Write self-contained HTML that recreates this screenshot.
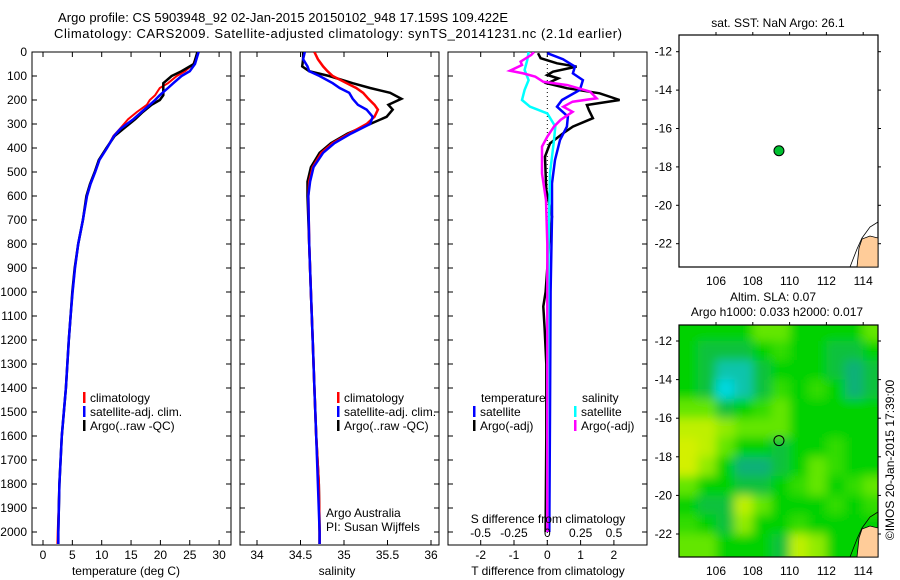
<!DOCTYPE html>
<html><head><meta charset="utf-8">
<style>
html,body{margin:0;padding:0;background:#fff;}
svg{display:block;font-family:"Liberation Sans",sans-serif;}
text{font-size:12px;fill:#000;}
</style></head>
<body>
<svg id="fig" width="900" height="580" viewBox="0 0 900 580" xmlns="http://www.w3.org/2000/svg">
<defs>
<clipPath id="clipP1"><rect x="32" y="52" width="199" height="493"/></clipPath>
<clipPath id="clipP2"><rect x="240" y="52" width="199" height="493"/></clipPath>
<clipPath id="clipP3"><rect x="448" y="52" width="199" height="493"/></clipPath>
<clipPath id="clipM1"><rect x="679" y="35" width="199" height="232"/></clipPath>
<clipPath id="clipM2"><rect x="679" y="325" width="199" height="232"/></clipPath>
<filter id="blur" x="-10%" y="-10%" width="120%" height="120%"><feGaussianBlur stdDeviation="5"/></filter>
</defs>
<text x="58" y="22" textLength="450" style="font-size:13px">Argo profile: CS 5903948_92 02-Jan-2015 20150102_948 17.159S 109.422E</text>
<text x="54" y="38" textLength="568" style="font-size:13px">Climatology: CARS2009. Satellite-adjusted climatology: synTS_20141231.nc (2.1d earlier)</text>
</svg>
<script>
// ---------- data ----------
const depthT = [0,50,80,100,130,150,180,200,220,250,280,320,350,400,450,500,550,600,700,800,900,1000,1100,1200,1400,1600,1800,2000,2050];
const tempClim = [26.4,25.6,24.2,22.8,21.3,19.9,19.1,18.2,17.7,16.0,14.5,13.1,12.0,10.9,9.6,8.9,8.1,7.5,6.8,6.0,5.45,5.05,4.7,4.4,3.9,3.2,2.8,2.5,2.45];
const tempSat = [26.5,25.9,25.0,23.6,22.2,21.3,19.9,19.1,18.2,16.8,15.4,13.2,12.1,10.9,9.6,8.9,8.1,7.5,6.8,6.0,5.45,5.05,4.7,4.4,3.9,3.2,2.8,2.6,2.6];
const tempArgo = [26.3,25.7,23.6,21.9,20.5,20.5,20.5,19.9,18.5,17.0,15.7,13.7,12.2,10.8,9.5,8.8,8.0,7.4,6.8,6.0,5.4,5.0,4.7,4.4,3.9,3.2,2.8,2.6,2.6];

const depthS = [0,30,60,80,100,130,150,170,195,220,240,270,300,340,380,420,480,540,600,800,1000,1200,1400,1600,1800,2000,2050];
const salClim = [34.66,34.70,34.76,34.81,34.87,35.03,35.14,35.22,35.28,35.35,35.39,35.35,35.26,35.06,34.87,34.74,34.64,34.60,34.59,34.60,34.62,34.64,34.66,34.68,34.71,34.72,34.72];
const salSat = [34.55,34.53,34.58,34.60,34.72,34.87,34.95,35.06,35.10,35.16,35.26,35.33,35.30,35.08,34.89,34.76,34.65,34.61,34.59,34.60,34.62,34.64,34.66,34.68,34.70,34.72,34.72];
const salArgo = [34.53,34.53,34.52,34.60,34.83,35.10,35.30,35.53,35.66,35.51,35.56,35.49,35.30,35.04,34.85,34.72,34.62,34.58,34.58,34.60,34.62,34.64,34.66,34.68,34.71,34.72,34.72];

const depthDTsat = [5,30,61,89,117,158,200,228,269,311,367,450,547,686,1000,1500,2000];
const dTsat = [0,0.47,0.83,0.77,1.07,0.98,0.44,0.29,0.62,0.59,0.38,0.23,0.14,0.14,0.1,0.08,0.06];
const depthDTargo = [5,26,47,61,82,96,110,131,151,172,200,221,242,276,311,339,381,436,506,575,686,800,1000,1060,1150,1300,1600,2000];
const dTargo = [-0.28,-0.2,0.29,0.88,0.17,0,0.33,0,0.59,1.57,2.17,1.19,1.25,1.37,0.77,0.47,0.08,-0.07,-0.05,-0.03,0.14,0.05,-0.05,-0.12,-0.08,-0.03,-0.03,-0.05];
const depthDSsat = [0,33,75,117,158,200,228,256,311,367,506,800,2000];
const dSsat = [-0.14,-0.15,-0.17,-0.14,-0.17,-0.19,-0.13,0,0.06,0.05,0.02,0.01,0.0];
const depthDSargo = [0,12,40,54,78,89,103,124,138,165,193,207,228,249,283,311,353,394,506,617,800,1200,2000];
const dSargo = [-0.1,-0.12,-0.2,-0.19,-0.28,-0.18,-0.09,-0.03,0.15,0.32,0.37,0.19,0.12,0.19,0.1,0.05,0,-0.04,-0.04,-0.01,0,0,0];

const depthTicks = [0,100,200,300,400,500,600,700,800,900,1000,1100,1200,1300,1400,1500,1600,1700,1800,1900,2000];
const tempTicks = [0,5,10,15,20,25,30];
const salTicks = [34,34.5,35,35.5,36];
const salTickLabels = ["34","34.5","35","35.5","36"];
const dTTicks = [-2,-1,0,1,2];
const dSTicks = [-0.5,-0.25,0,0.25,0.5];
const dSTickLabels = ["-0.5","-0.25","0","0.25","0.5"];

const argoLon = [109.422];
const argoLat = [-17.159];
const lonTicks = [106,108,110,112,114];
const latTicks = [-12,-14,-16,-18,-20,-22];
const slaLons = [104,105,106,107,108,109,110,111,112,113,114];
const slaLats = [-11,-12,-13,-14,-15,-16,-17,-18,-19,-20,-21,-22];
const slaRow0 = [2,2,2,2,3,3,2,2,2,2,3];
const slaRow1 = [2,1.5,1.5,1.5,2,2.5,2,2,1.5,1.5,2];
const slaRow2 = [2,1.5,0.5,0.5,1.5,2,2,2,1.5,1,1.5];
const slaRow3 = [2,1.5,0,0.5,1.5,2.5,2,2.5,2,1,1.5];
const slaRow4 = [3,3,1.5,2,2.5,3,2,2,2,2,2];
const slaRow5 = [4,4,3.5,3,3,3,2,2,2,2,2];
const slaRow6 = [4.5,4,3,2,2,1.5,2,2,2.5,2,2];
const slaRow7 = [4.5,3.5,2,1,1,1.5,2,3,2.5,2,2];
const slaRow8 = [3,2,2,1.5,1.5,2,2.5,3,2,2.5,3];
const slaRow9 = [2,1.5,1.5,4,3,2,2,2,2.5,2,2.5];
const slaRow10 = [2.5,2,1.5,3.5,2,2,2.5,2,2,2,2];
const slaRow11 = [3,3,2,2,2,1.5,4,3.5,2,2,2];
const slaGrid = [slaRow0,slaRow1,slaRow2,slaRow3,slaRow4,slaRow5,slaRow6,slaRow7,slaRow8,slaRow9,slaRow10,slaRow11];

// ---------- scales ----------
const dy = d => 52 + 0.24*d;
const tx = t => 43 + 5.87*t;
const sx = s => 257 + 87*(s-34);
const tdx = v => 547.3 + 33.3*v;
const sdx = v => 547.3 + 133.3*v;
const lonX = l => 716 + 18.4*(l-106);
const latY1 = la => 51.7 + 19.2*(-12-la);
const latY2 = la => 341 + 19.3*(-12-la);

const NS = "http://www.w3.org/2000/svg";
const svg = document.getElementById('fig');
function mk(tag, attrs, parent){
  const e = document.createElementNS(NS, tag);
  for (const k in attrs) e.setAttribute(k, attrs[k]);
  (parent||svg).appendChild(e);
  return e;
}
function txt(x,y,s,anchor,parent){
  const e = mk('text',{x:x,y:y,'text-anchor':anchor||'start'},parent);
  e.textContent = s;
  return e;
}
function poly(xs, ds, xf, color, w, clip){
  const pts = xs.map((v,i)=> xf(v).toFixed(1)+','+dy(ds[i]).toFixed(1)).join(' ');
  return mk('polyline',{points:pts,fill:'none',stroke:color,'stroke-width':w,'stroke-linejoin':'miter','clip-path':'url(#'+clip+')'});
}

// ---------- profile panels ----------
const panels = [{x:32,clip:'clipP1'},{x:240,clip:'clipP2'},{x:448,clip:'clipP3'}];
panels.forEach((p,idx)=>{
  const r = mk('rect',{x:p.x,y:52,width:199,height:493,fill:'none',stroke:'#000','stroke-width':1});
  
  
  depthTicks.forEach(d=>{
    const t1 = mk('line',{x1:p.x,x2:p.x+5,y1:dy(d),y2:dy(d),stroke:'#000'});
    
    
    const t2 = mk('line',{x1:p.x+199-5,x2:p.x+199,y1:dy(d),y2:dy(d),stroke:'#000'});
    
    
  });
});
depthTicks.forEach(d=>{
  const t = txt(27, dy(d)+4, String(d), 'end');
  
  
});
function xTicks(vals, labels, f, ylab){
  vals.forEach((v,i)=>{
    const a = mk('line',{x1:f(v),x2:f(v),y1:545,y2:540,stroke:'#000'});
    
    
    const b = mk('line',{x1:f(v),x2:f(v),y1:52,y2:57,stroke:'#000'});
    
    
    const t = txt(f(v), ylab, labels[i], 'middle');
    
    
  });
}
xTicks(tempTicks, tempTicks.map(String), tx, 559);
xTicks(salTicks, salTickLabels, sx, 559);
xTicks(dTTicks, dTTicks.map(String), tdx, 559);

const zl = mk('line',{x1:tdx(0),x2:tdx(0),y1:52,y2:545,stroke:'#000','stroke-dasharray':'1,3'});



let e;
e = poly(tempClim, depthT, tx, '#ff0000', 2, 'clipP1');


e = poly(tempArgo, depthT, tx, '#000000', 2.5, 'clipP1');


e = poly(tempSat, depthT, tx, '#0000ff', 2.5, 'clipP1');


e = poly(salArgo, depthS, sx, '#000000', 2.5, 'clipP2');


e = poly(salClim, depthS, sx, '#ff0000', 2.5, 'clipP2');


e = poly(salSat, depthS, sx, '#0000ff', 2.5, 'clipP2');


e = poly(dTargo, depthDTargo, tdx, '#000000', 2.5, 'clipP3');


e = poly(dTsat, depthDTsat, tdx, '#0000ff', 2.5, 'clipP3');


e = poly(dSsat, depthDSsat, sdx, '#00ffff', 2.5, 'clipP3');


e = poly(dSargo, depthDSargo, sdx, '#ff00ff', 2.5, 'clipP3');



dSTicks.forEach((v,i)=>{
  const t = txt(sdx(v), 537, dSTickLabels[i], 'middle');
  
  
});
e = txt(548, 523, 'S difference from climatology', 'middle');



e = txt(126, 575, 'temperature (deg C)', 'middle');


e = txt(337, 575, 'salinity', 'middle');


e = txt(548, 575, 'T difference from climatology', 'middle');



function legend(x, y, color, label, nm){
  const b = mk('rect',{x:x, y:y-10, width:2.5, height:11, fill:color});
  
  
  const t = txt(x+7, y, label);
  
  
}
legend(83, 402, '#ff0000', 'climatology', 'legend-entry-climatology');
legend(83, 416, '#0000ff', 'satellite-adj. clim.', 'legend-entry-satellite');
legend(83, 430, '#000000', 'Argo(..raw -QC)', 'legend-entry-argo');
legend(337, 402, '#ff0000', 'climatology', 'legend-entry-climatology-2');
legend(337, 416, '#0000ff', 'satellite-adj. clim.', 'legend-entry-satellite-2');
legend(337, 430, '#000000', 'Argo(..raw -QC)', 'legend-entry-argo-2');
e = txt(481, 402, 'temperature');


e = txt(582, 402, 'salinity');


legend(473, 416, '#0000ff', 'satellite', 'legend-entry-t-satellite');
legend(473, 430, '#000000', 'Argo(-adj)', 'legend-entry-t-argo');
legend(574, 416, '#00ffff', 'satellite', 'legend-entry-s-satellite');
legend(574, 430, '#ff00ff', 'Argo(-adj)', 'legend-entry-s-argo');
e = txt(326, 517, 'Argo Australia');


e = txt(326, 531, 'PI: Susan Wijffels');



// ---------- maps ----------
function slaColor(v){
  const stops = [[0,[0,216,224]],[1,[16,176,120]],[2,[0,210,0]],[3,[100,230,0]],[4,[190,240,0]],[5,[232,240,0]]];
  for (let i=0;i<stops.length-1;i++){
    if (v<=stops[i+1][0]){
      const f=(v-stops[i][0])/(stops[i+1][0]-stops[i][0]);
      const c=stops[i][1].map((a,k)=>Math.round(a+(stops[i+1][1][k]-a)*f));
      return 'rgb('+c.join(',')+')';
    }
  }
  return 'rgb(232,240,0)';
}
const hg = mk('g',{'clip-path':'url(#clipM2)'});


mk('rect',{x:679,y:325,width:199,height:232,fill:slaColor(2)},hg);
const hb = mk('g',{filter:'url(#blur)'},hg);
slaGrid.forEach((row,r)=>{
  row.forEach((v,c)=>{
    const x0 = lonX(slaLons[c]), x1 = lonX(slaLons[c]+1);
    const y0 = latY2(slaLats[r]), y1 = latY2(slaLats[r]-1);
    const ex = (c===0?-20:0), ex2 = (c===row.length-1?20:0);
    const ey = (r===0?-20:0), ey2 = (r===slaGrid.length-1?20:0);
    const cell = mk('rect',{x:x0+ex,y:y0+ey,width:(x1-x0)-ex+ex2+0.5,height:(y1-y0)-ey+ey2+0.5,fill:slaColor(v)},hb);
    
    
  });
});

function mapFrame(top, latY, nm, clip){
  const r = mk('rect',{x:679,y:top,width:199,height:232,fill:'none',stroke:'#000','stroke-width':1.2});
  
  
  const off = top-35;
  const land = mk('polygon',{points:[[857,267],[859,248],[862,239],[870,236],[878,238],[878,267]].map(p=>p[0]+','+(p[1]+off)).join(' '),fill:'#ffcc99',stroke:'#000','stroke-width':0.8,'clip-path':'url(#'+clip+')'});
  
  
  const coast = mk('polyline',{points:[[850,267],[857,249],[862,238],[870,227],[878,222]].map(p=>p[0]+','+(p[1]+off)).join(' '),fill:'none',stroke:'#000','stroke-width':0.8});
  
  
  lonTicks.forEach(l=>{
    const a = mk('line',{x1:lonX(l),x2:lonX(l),y1:top,y2:top-3,stroke:'#000'});
    
    
    const t = txt(lonX(l), top+232+18, String(l), 'middle');
    
    
  });
  latTicks.forEach(la=>{
    const a = mk('line',{x1:676,x2:679,y1:latY(la),y2:latY(la),stroke:'#000'});
    
    
    const b = mk('line',{x1:878,x2:881,y1:latY(la),y2:latY(la),stroke:'#000'});
    
    
    const t = txt(672, latY(la)+4, String(la), 'end');
    
    
  });
}
mapFrame(35, latY1, 'sst-map', 'clipM1');
mapFrame(325, latY2, 'sla-map', 'clipM2');

argoLon.forEach((lo,i)=>{
  const c1 = mk('circle',{cx:lonX(lo),cy:latY1(argoLat[i]),r:5,fill:'#00c030',stroke:'#000','stroke-width':1});
  
  
  const c2 = mk('circle',{cx:lonX(lo),cy:latY2(argoLat[i]),r:5,fill:'none',stroke:'#000','stroke-width':1});
  
  
});

e = txt(778, 27, 'sat. SST: NaN Argo: 26.1', 'middle');


e = txt(773, 301, 'Altim. SLA: 0.07', 'middle');


e = txt(777, 316, 'Argo h1000: 0.033 h2000: 0.017', 'middle');


e = txt(0, 0, '©IMOS 20-Jan-2015 17:39:00', 'middle');
e.setAttribute('transform', 'translate(894,460) rotate(-90)');


</script>
</body></html>
